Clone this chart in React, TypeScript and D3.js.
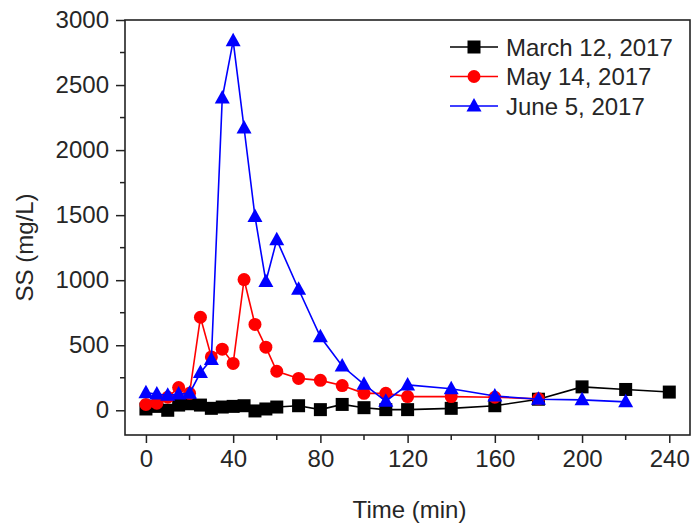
import React, { useRef, useEffect } from "react";
import * as d3 from "d3";

// Time (min) and SS (mg/L)
const marchTime = [0, 5, 10, 15, 20, 25, 30, 35, 40, 45, 50, 55, 60, 70, 80, 90, 100, 110, 120, 140, 160, 180, 200, 220, 240];
const marchSS = [10, 30, 0, 40, 50, 40, 15, 25, 30, 35, -5, 10, 25, 35, 5, 45, 20, 5, 5, 15, 35, 85, 180, 160, 140];

const mayTime = [0, 5, 10, 15, 20, 25, 30, 35, 40, 45, 50, 55, 60, 70, 80, 90, 100, 110, 120, 140, 160, 180];
const maySS = [45, 55, 100, 175, 130, 715, 410, 470, 360, 1005, 660, 485, 300, 245, 230, 190, 130, 130, 105, 105, 100, 88];

const juneTime = [0, 5, 10, 15, 20, 25, 30, 35, 40, 45, 50, 55, 60, 70, 80, 90, 100, 110, 120, 140, 160, 180, 200, 220];
const juneSS = [135, 125, 115, 125, 130, 290, 390, 2400, 2840, 2170, 1490, 990, 1310, 930, 565, 340, 200, 70, 195, 165, 110, 85, 80, 65];

const seriesNames = ["March 12, 2017", "May 14, 2017", "June 5, 2017"];
const seriesColors = ["#000000", "#ff0000", "#0000ff"];
const seriesMarkers = ["square", "circle", "triangle"];

const xTicks = [0, 40, 80, 120, 160, 200, 240];
const yTicks = [0, 500, 1000, 1500, 2000, 2500, 3000];

const App = () => {
  const svgRef = useRef<SVGSVGElement>(null);

  useEffect(() => {
    const w = 694;
    const h = 526;
    const left = 125, right = 690, top = 20, bottom = 435;
    const font = "'Liberation Sans', Arial, sans-serif";
    const fs = 24;
    const textColor = "#262626";

    const svg = d3.select(svgRef.current).attr("width", w).attr("height", h);
    svg.selectAll("*").remove();

    const x = d3.scaleLinear().domain([-9.6, 249.5]).range([left, right]);
    const y = d3.scaleLinear().domain([-190, 3000]).range([bottom, top]);

    const series = [
      { t: marchTime, v: marchSS },
      { t: mayTime, v: maySS },
      { t: juneTime, v: juneSS },
    ];

    const marker = (g: any, kind: string, color: string) => {
      if (kind === "square") {
        g.append("rect").attr("x", -6.5).attr("y", -6.5).attr("width", 13).attr("height", 13).attr("fill", color);
      } else if (kind === "circle") {
        g.append("circle").attr("r", 6.5).attr("fill", color);
      } else {
        g.append("path").attr("d", "M0,-8 L7.5,5.5 L-7.5,5.5 Z").attr("fill", color);
      }
    };

    // frame
    svg
      .append("rect")
      .attr("x", left)
      .attr("y", top)
      .attr("width", right - left)
      .attr("height", bottom - top)
      .attr("fill", "none")
      .attr("stroke", "#222")
      .attr("stroke-width", 1.6);

    // y axis
    const yAxis = d3
      .axisLeft(y)
      .tickValues(yTicks)
      .tickSize(9)
      .tickPadding(7)
      .tickFormat((d) => String(d));
    const ya = svg.append("g").attr("transform", `translate(${left},0)`).call(yAxis);
    ya.select(".domain").remove();
    ya.selectAll(".tick line").attr("stroke", "#222").attr("stroke-width", 1.5);
    ya.selectAll(".tick text").attr("font-size", fs).attr("font-family", font).attr("fill", textColor);
    svg
      .append("g")
      .selectAll("line")
      .data(d3.range(250, 3000, 500))
      .enter()
      .append("line")
      .attr("x1", left - 5)
      .attr("x2", left)
      .attr("y1", (d) => y(d))
      .attr("y2", (d) => y(d))
      .attr("stroke", "#222")
      .attr("stroke-width", 1.5);

    // x axis
    const xAxis = d3
      .axisBottom(x)
      .tickValues(xTicks)
      .tickSize(8)
      .tickPadding(7)
      .tickFormat((d) => String(d));
    const xa = svg.append("g").attr("transform", `translate(0,${bottom})`).call(xAxis);
    xa.select(".domain").remove();
    xa.selectAll(".tick line").attr("stroke", "#222").attr("stroke-width", 1.5);
    xa.selectAll(".tick text").attr("font-size", fs).attr("font-family", font).attr("fill", textColor);
    svg
      .append("g")
      .selectAll("line")
      .data(d3.range(20, 240, 40))
      .enter()
      .append("line")
      .attr("x1", (d) => x(d))
      .attr("x2", (d) => x(d))
      .attr("y1", bottom)
      .attr("y2", bottom + 5)
      .attr("stroke", "#222")
      .attr("stroke-width", 1.5);

    // axis titles
    svg
      .append("text")
      .attr("x", (left + right) / 2 + 2)
      .attr("y", 518)
      .attr("text-anchor", "middle")
      .attr("font-size", fs)
      .attr("font-family", font)
      .attr("fill", textColor)
      .text("Time (min)");
    svg
      .append("text")
      .attr("transform", `translate(33,${(top + bottom) / 2 + 20}) rotate(-90)`)
      .attr("text-anchor", "middle")
      .attr("font-size", fs)
      .attr("font-family", font)
      .attr("fill", textColor)
      .text("SS (mg/L)");

    // series
    const line = d3
      .line<[number, number]>()
      .x((d) => x(d[0]))
      .y((d) => y(d[1]));

    series.forEach((s, i) => {
      const pts: [number, number][] = s.t.map((t, j) => [t, s.v[j]]);
      const g = svg.append("g");
      g.append("path")
        .attr("d", line(pts))
        .attr("fill", "none")
        .attr("stroke", seriesColors[i])
        .attr("stroke-width", 1.6);
      pts.forEach((p) => {
        const m = g.append("g").attr("transform", `translate(${x(p[0])},${y(p[1])})`);
        marker(m, seriesMarkers[i], seriesColors[i]);
      });
    });

    // legend
    const lg = svg.append("g");
    seriesNames.forEach((name, i) => {
      const ly = 47 + i * 29.5;
      lg.append("line")
        .attr("x1", 450)
        .attr("x2", 498)
        .attr("y1", ly)
        .attr("y2", ly)
        .attr("stroke", seriesColors[i])
        .attr("stroke-width", 1.6);
      const m = lg.append("g").attr("transform", `translate(474,${ly})`);
      marker(m, seriesMarkers[i], seriesColors[i]);
      lg.append("text")
        .attr("x", 506)
        .attr("y", ly + 8.5)
        .attr("font-size", fs)
        .attr("font-family", font)
        .attr("fill", textColor)
        .text(name);
    });
  }, []);

  return (
    <div>
      <svg ref={svgRef} style={{ position: "absolute", left: 0, top: 0, background: "#fff" }}></svg>
    </div>
  );
};

export default App;
